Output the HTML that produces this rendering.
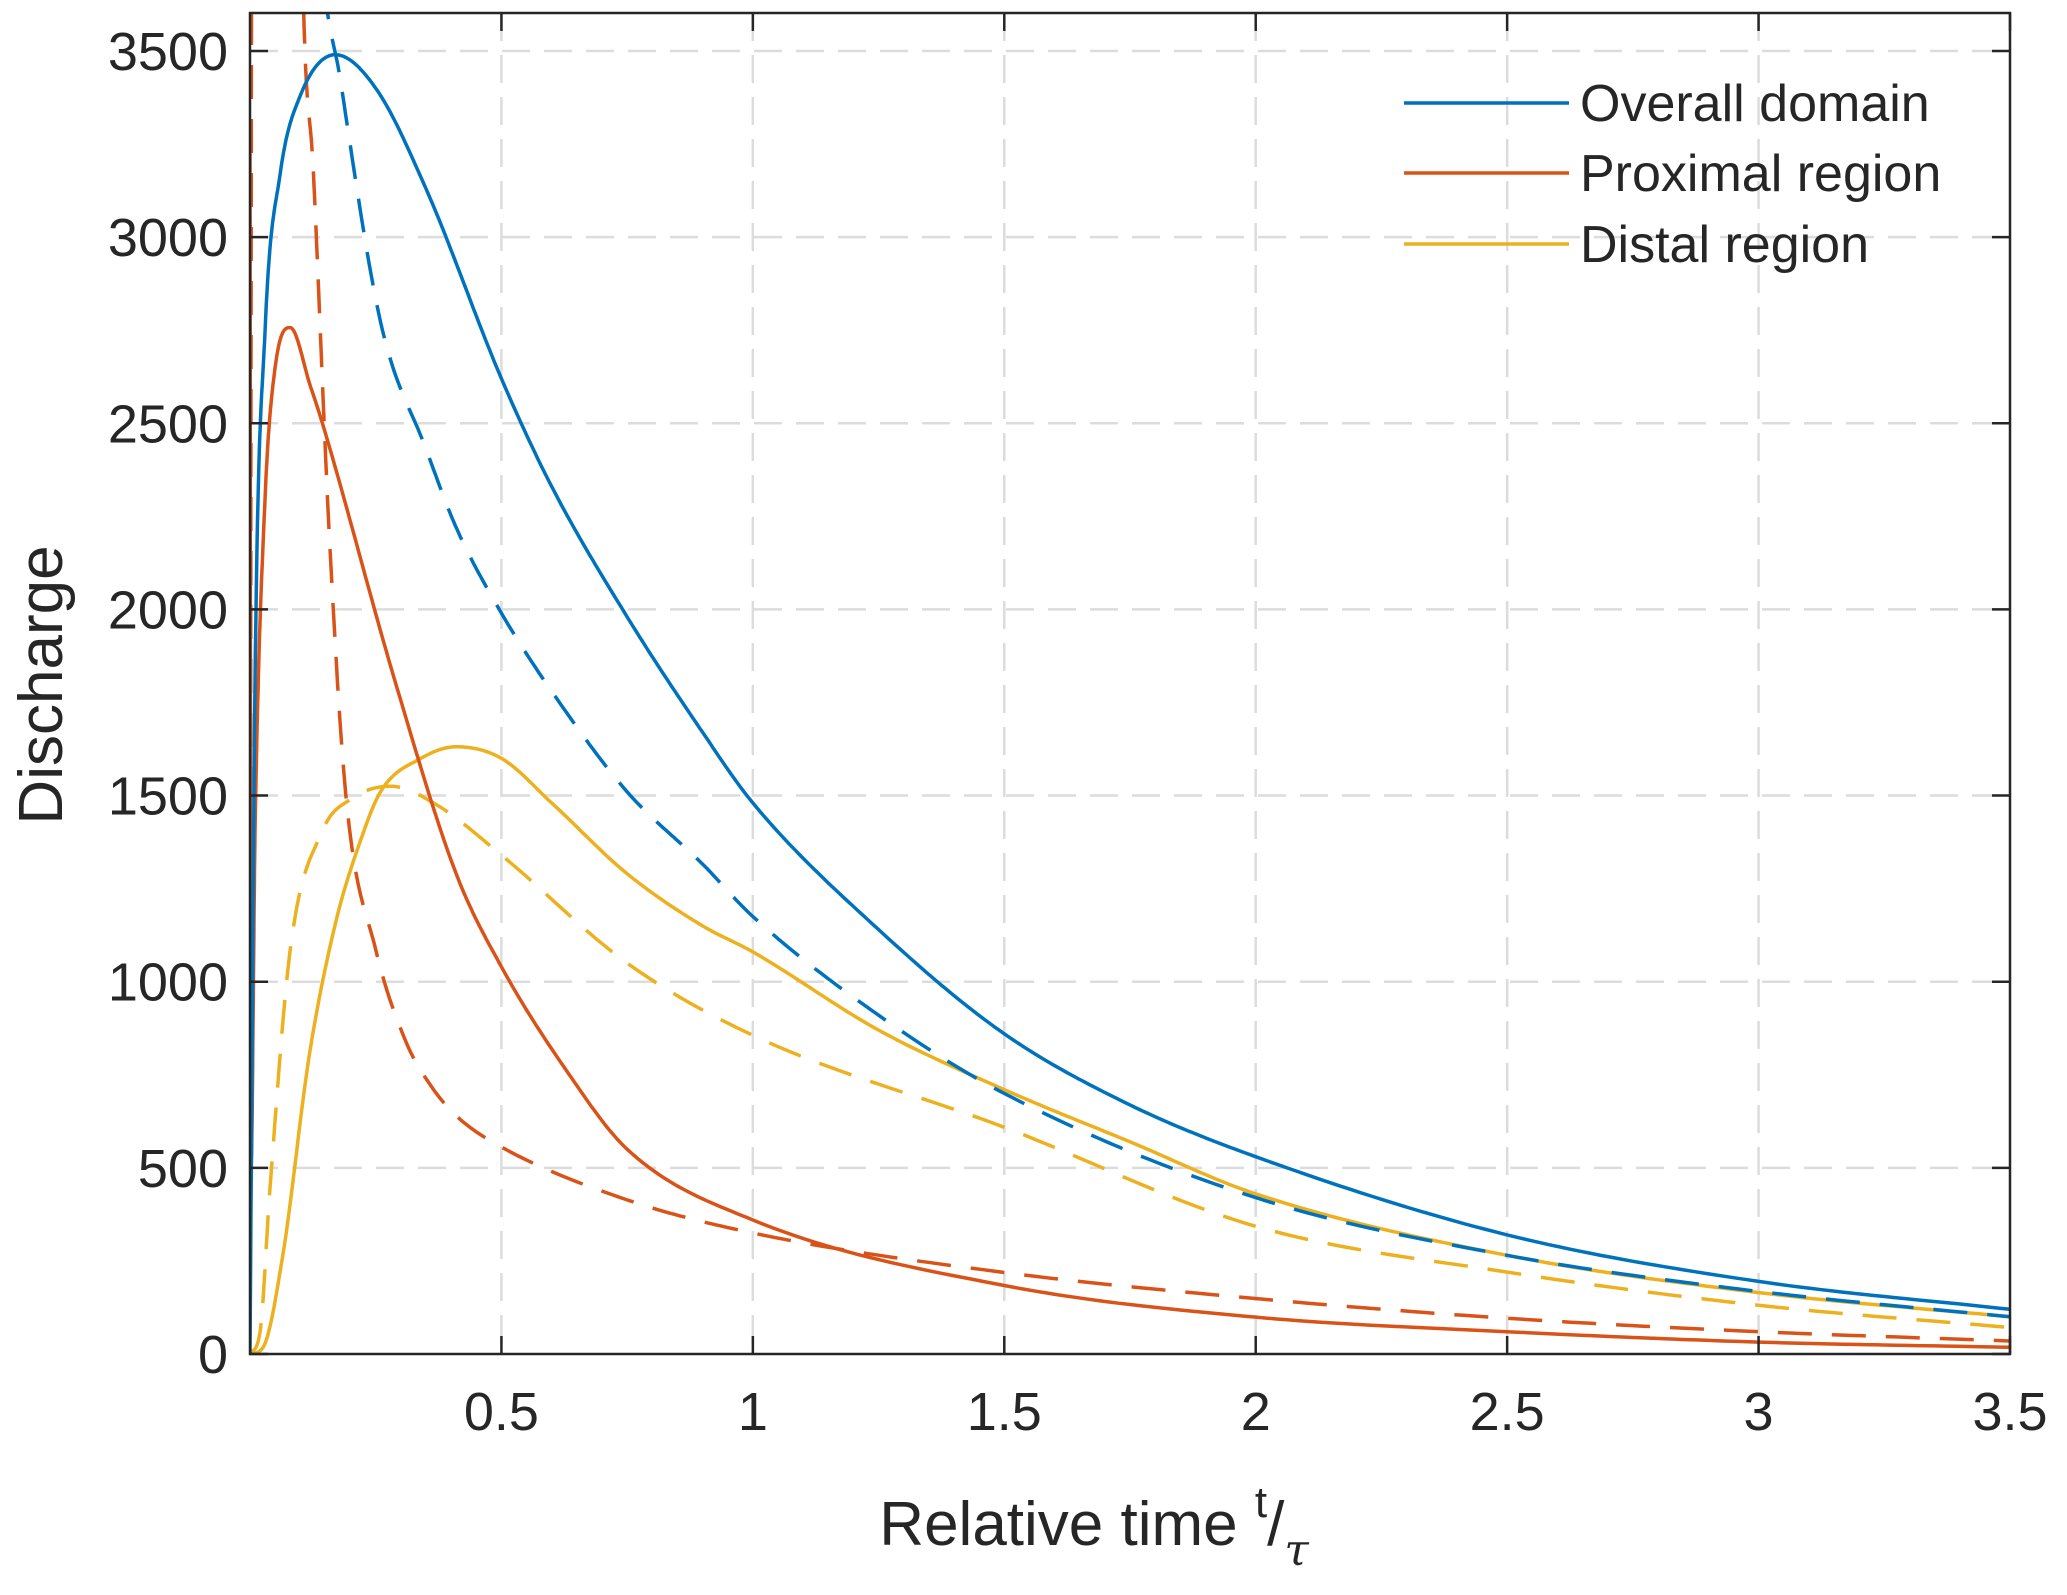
<!DOCTYPE html>
<html><head><meta charset="utf-8"><style>
html,body{margin:0;padding:0;background:#fff;}
svg text{font-family:"Liberation Sans",Arial,sans-serif;fill:#262626;}
</style></head><body>
<svg id="chart" width="2067" height="1590" viewBox="0 0 2067 1590" xmlns="http://www.w3.org/2000/svg">
<defs><clipPath id="clip"><rect x="250" y="13" width="1760" height="1341"/></clipPath></defs>
<rect x="0" y="0" width="2067" height="1590" fill="#fff"/>
<g id="grid"></g>
<g id="series" clip-path="url(#clip)"></g>
<rect x="250" y="13" width="1760" height="1341" fill="none" stroke="#262626" stroke-width="2.5"/>
<g id="ticks"></g>
<text x="1094" y="1545" font-size="62" text-anchor="middle">Relative time <tspan font-size="44" dy="-28">t</tspan><tspan font-size="62" dy="28">/</tspan><tspan font-size="44" dy="20" font-style="italic" font-family="DejaVu Serif, serif">τ</tspan></text>
<text x="0" y="0" font-size="62" text-anchor="middle" transform="translate(62,685) rotate(-90)">Discharge</text>
<g>
<line x1="1404" y1="103" x2="1569" y2="103" stroke="#0072BD" stroke-width="3.5"/>
<text x="1580" y="121" font-size="52">Overall domain</text>
<line x1="1404" y1="173" x2="1569" y2="173" stroke="#D95319" stroke-width="3.5"/>
<text x="1580" y="191" font-size="52">Proximal region</text>
<line x1="1404" y1="244" x2="1569" y2="244" stroke="#EDB120" stroke-width="3.5"/>
<text x="1580" y="262" font-size="52">Distal region</text>
</g>
</svg>
<script>
const xTicks=[0.5,1,1.5,2,2.5,3,3.5];
const xTickLabels=["0.5","1","1.5","2","2.5","3","3.5"];
const yTicks=[0,500,1000,1500,2000,2500,3000,3500];
const yTickLabels=["0","500","1000","1500","2000","2500","3000","3500"];
const overallSolidX=[0,0.01,0.03,0.06,0.1,0.17,0.25,0.35,0.5,0.6,0.75,0.9,1,1.25,1.5,1.75,2,2.5,3,3.5];
const overallSolidY=[0,1800,2750,3170,3380,3490,3400,3130,2620,2330,1980,1670,1480,1140,860,669,530,320,195,120];
const overallDashX=[0.12,0.14,0.18,0.26,0.35,0.41,0.5,0.6,0.75,0.9,1,1.25,1.5,2,2.5,3,3.5];
const overallDashY=[4400,3800,3420,2770,2431,2220,1990,1780,1510,1316,1175,910,700,420,265,168,100];
const proxSolidX=[0,0.002,0.01,0.03,0.05,0.08,0.12,0.144,0.29,0.41,0.5,0.63,0.75,1,1.5,2,2.5,3,3.5];
const proxSolidY=[3270,500,1400,2300,2650,2757,2600,2500,1800,1290,1040,760,550,360,184,99,60,32,18];
const proxDashX=[0,0.004,0.05,0.105,0.126,0.157,0.19,0.25,0.31,0.36,0.41,0.5,0.75,1,1.5,2,2.5,3,3.5];
const proxDashY=[470,4200,9000,3700,3175,2220,1510,1086,839,720,640,556,414,325,219,149,96,60,35];
const distSolidX=[0,0.026,0.066,0.118,0.17,0.22,0.26,0.34,0.41,0.5,0.6,0.75,0.9,1,1.25,1.5,1.75,2,2.5,3,3.5];
const distSolidY=[0,18,272,803,1157,1380,1511,1600,1631,1600,1480,1290,1150,1080,870,710,570,430,265,165,100];
const distDashX=[0,0.02,0.04,0.08,0.144,0.2,0.28,0.37,0.5,0.75,1,1.5,2,2.5,3,3.5];
const distDashY=[0,60,450,1086,1405,1490,1525,1476,1340,1050,856,609,343,220,131,71];

const X0=250,X1=2010,Y0=1354,YTOP=13,YMAX=3602;
function sx(v){return X0+v/3.5*(X1-X0);}
function sy(v){return Y0-v/YMAX*(Y0-YTOP);}
const NS="http://www.w3.org/2000/svg";
const grid=document.getElementById('grid'),ticks=document.getElementById('ticks'),series=document.getElementById('series');
function mk(tag,attrs,parent){const e=document.createElementNS(NS,tag);for(const k in attrs)e.setAttribute(k,attrs[k]);parent.appendChild(e);return e;}
xTicks.forEach((t,i)=>{
  const x=sx(t);
  if(t<3.5){const g=mk('line',{x1:x,y1:YTOP,x2:x,y2:Y0,stroke:'#dcdcdc','stroke-width':2.5,'stroke-dasharray':'28,14'},grid);
  
  }
  const a=mk('line',{x1:x,y1:Y0,x2:x,y2:Y0-18,stroke:'#262626','stroke-width':2.5},ticks);
  
  
  const b=mk('line',{x1:x,y1:YTOP,x2:x,y2:YTOP+18,stroke:'#262626','stroke-width':2.5},ticks);
  
  
  const tx=mk('text',{x:x,y:Y0+76,'font-size':54,'text-anchor':'middle'},ticks);
  tx.textContent=xTickLabels[i];
  
  
});
yTicks.forEach((t,i)=>{
  const y=sy(t);
  if(t>0){const g=mk('line',{x1:X0,y1:y,x2:X1,y2:y,stroke:'#dcdcdc','stroke-width':2.5,'stroke-dasharray':'28,14'},grid);
  
  }
  const a=mk('line',{x1:X0,y1:y,x2:X0+18,y2:y,stroke:'#262626','stroke-width':2.5},ticks);
  
  
  const b=mk('line',{x1:X1,y1:y,x2:X1-18,y2:y,stroke:'#262626','stroke-width':2.5},ticks);
  
  
  const tx=mk('text',{x:X0-22,y:y+19,'font-size':54,'text-anchor':'end'},ticks);
  tx.textContent=yTickLabels[i];
  
  
});
// monotone cubic (Fritsch-Carlson) interpolation, sampled densely
function pathFor(xs,ys){
  const n=xs.length,d=[],m=new Array(n);
  for(let i=0;i<n-1;i++)d.push((ys[i+1]-ys[i])/(xs[i+1]-xs[i]));
  m[0]=d[0];m[n-1]=d[n-2];
  for(let i=1;i<n-1;i++)m[i]=(d[i-1]*d[i]<=0)?0:(d[i-1]+d[i])/2;
  for(let i=0;i<n-1;i++){
    if(d[i]===0){m[i]=0;m[i+1]=0;continue;}
    const a=m[i]/d[i],b=m[i+1]/d[i],s=a*a+b*b;
    if(s>9){const t=3/Math.sqrt(s);m[i]=t*a*d[i];m[i+1]=t*b*d[i];}
  }
  let p='M'+sx(xs[0]).toFixed(1)+','+sy(ys[0]).toFixed(1);
  for(let i=0;i<n-1;i++){
    const h=xs[i+1]-xs[i],N=24;
    for(let k=1;k<=N;k++){
      const t=k/N,t2=t*t,t3=t2*t;
      const y=(2*t3-3*t2+1)*ys[i]+(t3-2*t2+t)*h*m[i]+(-2*t3+3*t2)*ys[i+1]+(t3-t2)*h*m[i+1];
      p+=' L'+sx(xs[i]+t*h).toFixed(1)+','+sy(y).toFixed(1);
    }
  }
  return p;
}
function draw(xs,ys,color,dash,name){
  const e=mk('path',{d:pathFor(xs,ys),fill:'none',stroke:color,'stroke-width':3.5,'stroke-linejoin':'round'},series);
  if(dash)e.setAttribute('stroke-dasharray','34,20');
  
  
}
draw(distDashX,distDashY,'#EDB120',true,'distal-dashed-line');
draw(distSolidX,distSolidY,'#EDB120',false,'distal-solid-line');
draw(proxDashX,proxDashY,'#D95319',true,'proximal-dashed-line');
draw(proxSolidX,proxSolidY,'#D95319',false,'proximal-solid-line');
draw(overallDashX,overallDashY,'#0072BD',true,'overall-dashed-line');
draw(overallSolidX,overallSolidY,'#0072BD',false,'overall-solid-line');
</script>
</body></html>
